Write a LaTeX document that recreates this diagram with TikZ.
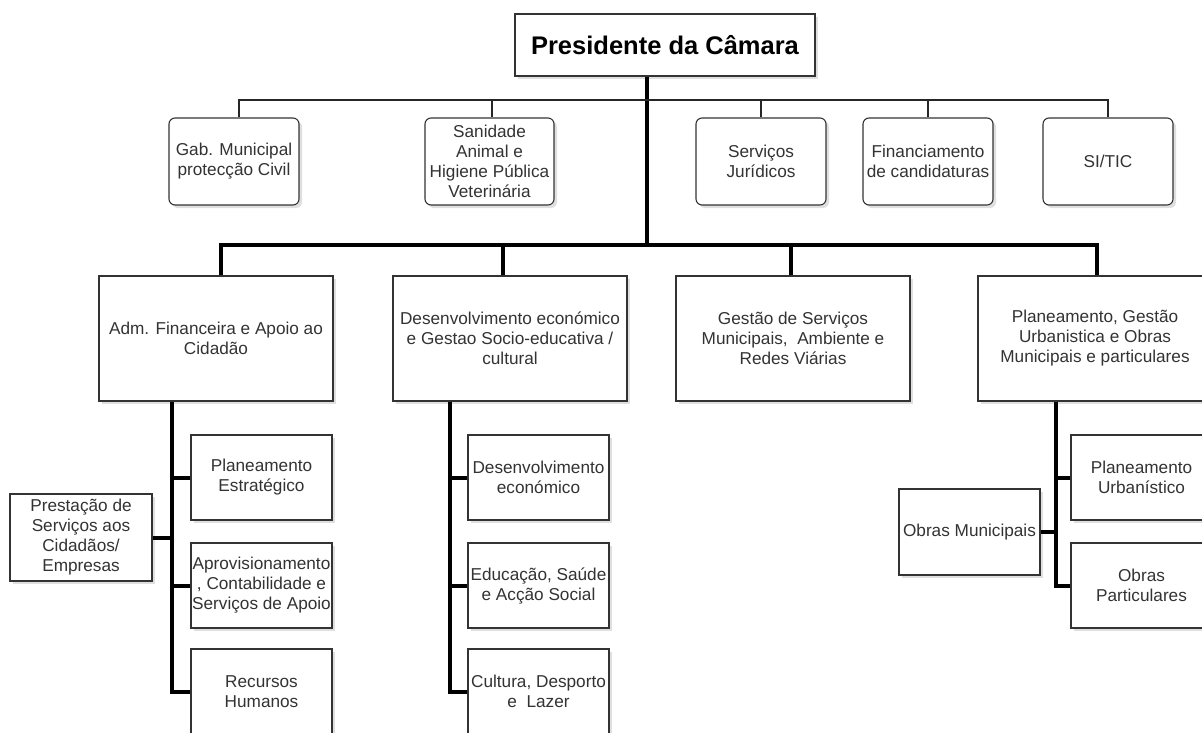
\documentclass[tikz,border=0pt]{standalone}
\usepackage{fontspec}
\setmainfont{Liberation Sans}
\usetikzlibrary{shadows,calc}
\tikzset{
  box/.style={draw=black!80, line width=1.1pt, fill=white, align=center, text=black!80,
    font=\fontsize{17.2}{20}\selectfont, inner sep=0pt,
    drop shadow={shadow xshift=3pt, shadow yshift=-3pt, fill=black!25}},
  rbox/.style={box, rounded corners=6pt},
  thinln/.style={line width=1.8pt, draw=black!85},
  thickln/.style={line width=4pt, draw=black, line join=miter},
}
\begin{document}
\begin{tikzpicture}[x=1pt,y=-1pt]
\useasboundingbox (0,0) rectangle (1202,733);
% top
\node[box, minimum width=300, minimum height=62, font=\bfseries\fontsize{25.5}{30}\selectfont, text=black] (pres) at (665,45) {Presidente da Câmara};
% first row
\node[rbox, minimum width=130, minimum height=87] (gab) at (234,161.5) {Gab. Municipal\\protecção Civil};
\node[rbox, minimum width=129, minimum height=87] (san) at (489.5,161.5) {Sanidade\\Animal e\\Higiene Pública\\Veterinária};
\node[rbox, minimum width=130, minimum height=87] (ser) at (761,161.5) {Serviços\\Jurídicos};
\node[rbox, minimum width=130, minimum height=87] (fin) at (928,161.5) {Financiamento\\de candidaturas};
\node[rbox, minimum width=130, minimum height=87] (sit) at (1108,161.5) {SI/TIC};
% departments
\node[box, minimum width=234, minimum height=125] (adm) at (216,338.5) {Adm. Financeira e Apoio ao\\Cidadão};
\node[box, minimum width=234, minimum height=125] (des) at (510,338.5) {Desenvolvimento económico\\e Gestao Socio-educativa /\\cultural};
\node[box, minimum width=234, minimum height=125] (ges) at (793,338.5) {Gestão de Serviços\\Municipais,\ \ Ambiente e\\Redes Viárias};
\node[box, minimum width=234, minimum height=125] (pla) at (1095,338.5) {Planeamento, Gestão\\Urbanistica e Obras\\Municipais e particulares};
% sub units
\node[box, minimum width=141, minimum height=85] (pe) at (261.5,477.5) {Planeamento\\Estratégico};
\node[box, minimum width=141, minimum height=85] (apr) at (261.5,585.5) {Aprovisionamento\\, Contabilidade e\\Serviços de Apoio};
\node[box, minimum width=141, minimum height=85] (rh) at (261.5,691.5) {Recursos\\Humanos};
\node[box, minimum width=142, minimum height=87] (pr) at (81,537.5) {Prestação de\\Serviços aos\\Cidadãos/\\Empresas};
\node[box, minimum width=141, minimum height=85] (de) at (538.5,477.5) {Desenvolvimento\\económico};
\node[box, minimum width=141, minimum height=85] (ed) at (538.5,585.5) {Educação, Saúde\\e Acção Social};
\node[box, minimum width=141, minimum height=85] (cu) at (538.5,691.5) {Cultura, Desporto\\e\ \ Lazer};
\node[box, minimum width=141, minimum height=85] (pu) at (1141.5,477.5) {Planeamento\\Urbanístico};
\node[box, minimum width=141, minimum height=85] (op) at (1141.5,585.5) {Obras\\Particulares};
\node[box, minimum width=141, minimum height=86] (om) at (969.5,532) {Obras Municipais};
% bus points
\coordinate (pt) at ($(pres.south)+(-18,0)$);
\coordinate (b1) at (647,100);
\coordinate (b2) at (647,245);
% president trunk
\draw[thickln] (pt) -- (pt |- b2);
% thin bus
\draw[thinln] ($(gab.north)+(5,0)$) |- (sit.north |- b1) -- (sit.north);
\draw[thinln] ($(san.north)+(2.5,0)$) -- ($(san.north |- b1)+(2.5,0)$);
\draw[thinln] (ser.north) -- (ser.north |- b1);
\draw[thinln] (fin.north) -- (fin.north |- b1);
% thick bus
\draw[thickln] ($(adm.north)+(5,0)$) |- ($(pla.north |- b2)+(2,0)$) -- ($(pla.north)+(2,0)$);
\draw[thickln] ($(des.north)+(-7,0)$) -- ($(des.north |- b2)+(-7,0)$);
\draw[thickln] ($(ges.north)+(-2,0)$) -- ($(ges.north |- b2)+(-2,0)$);
% Adm trunk
\coordinate (at) at ($(adm.south)+(-44,0)$);
\draw[thickln] (at) -- (at |- rh.west) -- (rh.west);
\draw[thickln] (pe.west) -- (pe.west -| at);
\draw[thickln] (apr.west) -- (apr.west -| at);
\draw[thickln] (pr.east) -- (pr.east -| at);
% Des trunk
\coordinate (dt) at ($(des.south)+(-60,0)$);
\draw[thickln] (dt) -- (dt |- cu.west) -- (cu.west);
\draw[thickln] (de.west) -- (de.west -| dt);
\draw[thickln] (ed.west) -- (ed.west -| dt);
% Pla trunk
\coordinate (plt) at ($(pla.south)+(-39,0)$);
\draw[thickln] (plt) -- (plt |- op.west) -- (op.west);
\draw[thickln] (pu.west) -- (pu.west -| plt);
\draw[thickln] (om.east) -- (om.east -| plt);
\end{tikzpicture}
\end{document}
